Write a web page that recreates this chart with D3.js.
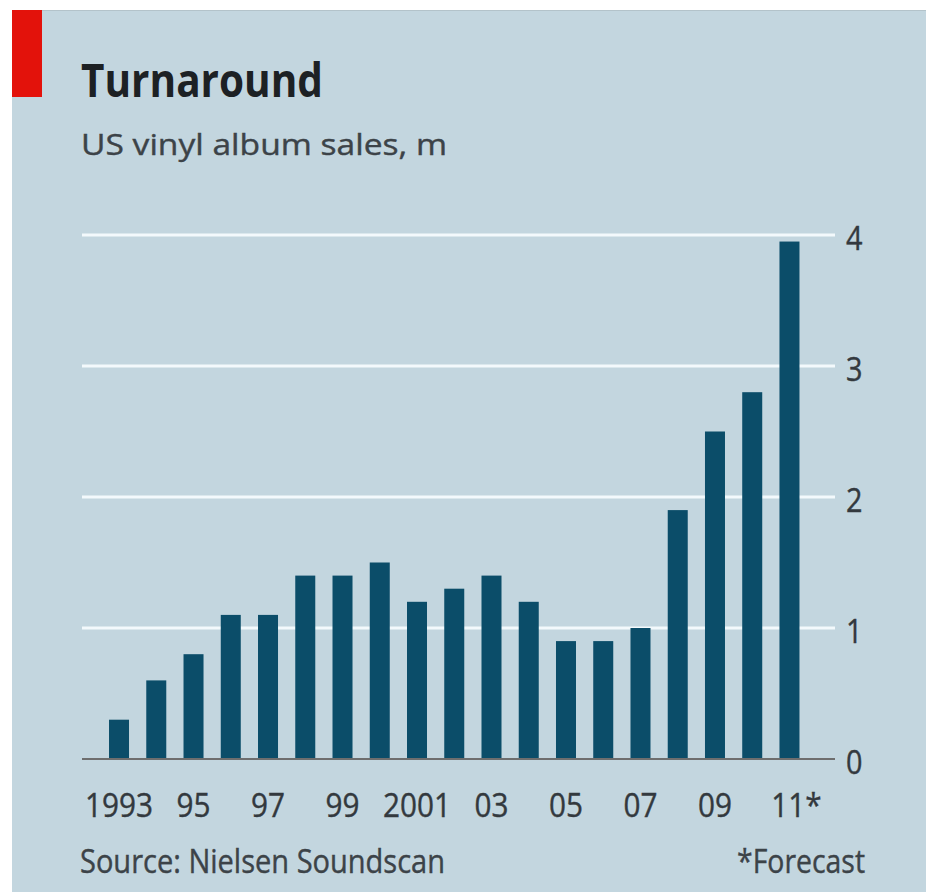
<!DOCTYPE html>
<html>
<head>
<meta charset="utf-8">
<script src="https://cdn.jsdelivr.net/npm/d3@7"></script>
<style>
  html, body { margin: 0; padding: 0; background: #ffffff; }
  svg { display: block; }
</style>
</head>
<body>
<svg id="chart" width="926" height="896"></svg>
<script>
// ---- data ----
const years = [1993,1994,1995,1996,1997,1998,1999,2000,2001,2002,2003,2004,2005,2006,2007,2008,2009,2010,2011];
const sales = [0.3,0.6,0.8,1.1,1.1,1.4,1.4,1.5,1.2,1.3,1.4,1.2,0.9,0.9,1.0,1.9,2.5,2.8,3.95];
const tickYears = [1993,1995,1997,1999,2001,2003,2005,2007,2009,2011];
const tickLabels = ["1993","95","97","99","2001","03","05","07","09","11*"];
const yTicks = [0,1,2,3,4];
const title = "Turnaround";
const subtitle = "US vinyl album sales, m";
const source = "Source: Nielsen Soundscan";
const note = "*Forecast";

// ---- setup ----
const svg = d3.select("#chart");
const FONT = "'Open Sans', 'Noto Sans', 'DejaVu Sans', sans-serif";
const TXT = "#33393e";

function squeeze(sel, factor) {
  sel.each(function() {
    const len = this.getComputedTextLength();
    d3.select(this).attr("textLength", len * factor).attr("lengthAdjust", "spacingAndGlyphs");
  });
}

// background panel
svg.append("rect").attr("x", 12).attr("y", 10).attr("width", 914).attr("height", 882).attr("fill", "#c3d6df");
svg.append("line").attr("x1", 12).attr("x2", 926).attr("y1", 10.5).attr("y2", 10.5)
  .attr("stroke", "#b3c3ca").attr("stroke-width", 1);
// red tag
svg.append("rect").attr("x", 12).attr("y", 10).attr("width", 30).attr("height", 87).attr("fill", "#e3120b");

// titles
svg.append("text").attr("x", 81).attr("y", 97).text(title)
  .attr("font-family", FONT).attr("font-weight", 700).attr("font-size", 46).attr("fill", "#1d2124")
  .attr("textLength", 242).attr("lengthAdjust", "spacingAndGlyphs");
svg.append("text").attr("x", 81).attr("y", 155).text(subtitle)
  .attr("font-family", FONT).attr("font-size", 30).attr("fill", "#3c4348")
  .attr("stroke", "#3c4348").attr("stroke-width", 0.4)
  .attr("textLength", 366).attr("lengthAdjust", "spacingAndGlyphs");

// scales
const x = d3.scaleBand().domain(years).range([100.4, 808.1]).paddingInner(0.463).paddingOuter(0.2315);
const y = d3.scaleLinear().domain([0, 4]).range([759, 235]);

const gridX0 = 82, gridX1 = 835;

// gridlines
svg.append("g").selectAll("line").data(yTicks.filter(d => d > 0)).join("line")
  .attr("x1", gridX0).attr("x2", gridX1)
  .attr("y1", d => y(d)).attr("y2", d => y(d))
  .attr("stroke", "#f3f9fc").attr("stroke-width", 3);

// bars
svg.append("g").selectAll("rect").data(years).join("rect")
  .attr("x", d => x(d))
  .attr("width", x.bandwidth())
  .attr("y", (d, i) => y(sales[i]))
  .attr("height", (d, i) => y(0) - y(sales[i]))
  .attr("fill", "#0b4d69");

// baseline
svg.append("line").attr("x1", gridX0).attr("x2", gridX1).attr("y1", y(0)).attr("y2", y(0))
  .attr("stroke", "#6e6e6e").attr("stroke-width", 2.2);

// right y axis labels
const yAxis = d3.axisRight(y).tickValues(yTicks).tickSize(0).tickPadding(11).tickFormat(d3.format("d"));
const gy = svg.append("g").attr("transform", `translate(${gridX1},0)`).call(yAxis);
gy.select(".domain").remove();
gy.selectAll("text").attr("font-family", FONT).attr("font-size", 32).attr("fill", TXT)
  .attr("stroke", TXT).attr("stroke-width", 0.4)
  .attr("dy", "0.45em");
squeeze(gy.selectAll("text"), 0.9);

// x labels
const xLab = svg.append("g").selectAll("text").data(tickYears).join("text")
  .attr("y", 817)
  .attr("font-family", FONT).attr("font-size", 33).attr("fill", TXT)
  .attr("stroke", TXT).attr("stroke-width", 0.4)
  .text((d, i) => tickLabels[i]);
xLab.each(function(d, i) {
  const t = d3.select(this);
  const label = tickLabels[i];
  const full = this.getComputedTextLength() * 0.9;
  t.attr("textLength", full).attr("lengthAdjust", "spacingAndGlyphs");
  const cx = x(d) + x.bandwidth() / 2;
  if (label.endsWith("*")) {
    // centre the digits on the bar, let the asterisk hang to the right
    const core = full * (label.length - 1) / label.length * 1.08;
    t.attr("x", cx - core / 2).attr("text-anchor", "start");
  } else {
    t.attr("x", cx).attr("text-anchor", "middle");
  }
});

// footer
svg.append("text").attr("x", 80).attr("y", 873).text(source)
  .attr("font-family", FONT).attr("font-size", 32).attr("fill", "#3c4348")
  .attr("stroke", "#3c4348").attr("stroke-width", 0.4)
  .attr("textLength", 365).attr("lengthAdjust", "spacingAndGlyphs");
svg.append("text").attr("x", 865).attr("y", 873).attr("text-anchor", "end").text(note)
  .attr("font-family", FONT).attr("font-size", 32).attr("fill", "#3c4348")
  .attr("stroke", "#3c4348").attr("stroke-width", 0.4)
  .attr("textLength", 128).attr("lengthAdjust", "spacingAndGlyphs");
</script>
</body>
</html>
